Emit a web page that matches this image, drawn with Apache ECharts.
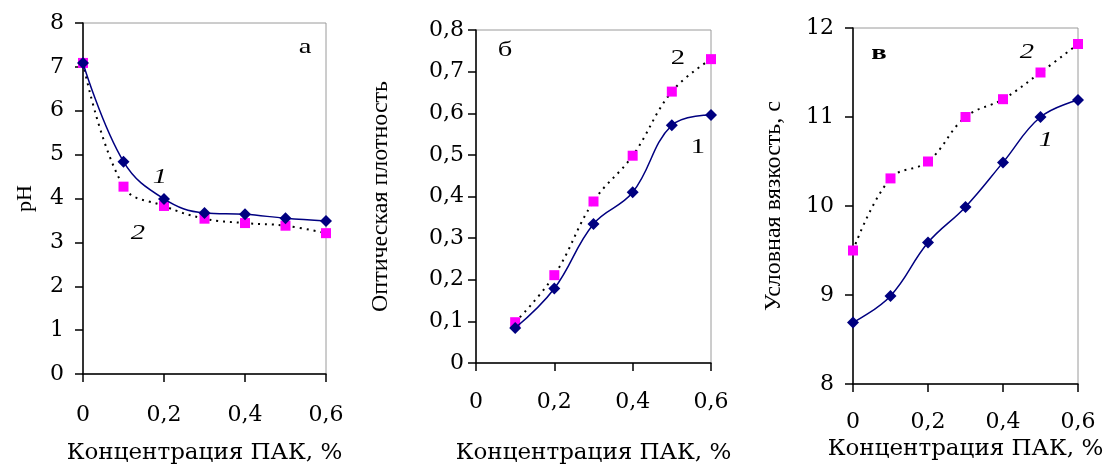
<!DOCTYPE html>
<html><head><meta charset="utf-8">
<script src="https://cdn.jsdelivr.net/npm/echarts@6/dist/echarts.min.js"></script>
<style>html,body{margin:0;padding:0;background:#fff}#c{width:1109px;height:466px}</style>
</head><body><div id="c"></div>
<script>
// Panel a: pH
var xA = [0, 0.1, 0.2, 0.3, 0.4, 0.5, 0.6];
var pH1 = [7.09, 4.84, 3.99, 3.67, 3.64, 3.55, 3.49];
var pH2 = [7.09, 4.27, 3.83, 3.54, 3.44, 3.38, 3.21];
// Panel b: optical density
var xB = [0.1, 0.2, 0.3, 0.4, 0.5, 0.6];
var od1 = [0.084, 0.179, 0.334, 0.41, 0.571, 0.596];
var od2 = [0.098, 0.211, 0.388, 0.498, 0.652, 0.73];
// Panel c: viscosity
var xC = [0, 0.1, 0.2, 0.3, 0.4, 0.5, 0.6];
var vis1 = [8.69, 8.99, 9.59, 9.99, 10.49, 11.0, 11.19];
var vis2 = [9.5, 10.31, 10.5, 11.0, 11.2, 11.5, 11.82];

var xTitle = 'Концентрация ПАК, %';
var yTitles = ['pH', 'Оптическая плотность', 'Условная вязкость, с'];
var panelLetters = ['а', 'б', 'в'];

function pairs(x, y){ return x.map(function(v,i){return [v, y[i]];}); }
function comma(v){ return String(+v.toFixed(2)).replace('.', ','); }

var WIDE = 'DejaVu Serif';
var SERIF = 'Liberation Serif';
var grids = [
  {left:83, top:23, width:243, height:351},
  {left:476, top:30, width:235, height:333},
  {left:853, top:28, width:225, height:356}
];
var yCfg = [
  {min:0, max:8, interval:1, margin:19, gap:47, fs:22},
  {min:0, max:0.8, interval:0.1, margin:12, gap:83, fs:24},
  {min:8, max:12, interval:1, margin:19, gap:67, fs:24}
];
var xLabelMargin = [30, 28, 27];
var xNameGap = [68, 79, 50];

var option = {
  animation:false,
  backgroundColor:'#fff',
  textStyle:{fontFamily:SERIF},
  grid: grids.map(function(g){ return Object.assign({show:true, borderColor:'#9a9a9a', borderWidth:1, containLabel:false, outerBoundsMode:'none'}, g); }),
  xAxis: [0,1,2].map(function(i){ return {
    type:'value', gridIndex:i, min:0, max:0.6, interval:0.2,
    name: xTitle, nameLocation:'middle', nameGap:xNameGap[i],
    nameTextStyle:{fontFamily:WIDE, fontSize:23, color:'#000'},
    axisLine:{show:true, lineStyle:{color:'#000', width:1.5}},
    axisTick:{show:true, inside:false, length:8, lineStyle:{color:'#000', width:1.5}},
    axisLabel:{formatter:comma, fontFamily:WIDE, fontSize:22, color:'#000', margin:xLabelMargin[i]},
    splitLine:{show:false}
  };}),
  yAxis: [0,1,2].map(function(i){ var c=yCfg[i]; return {
    type:'value', gridIndex:i, min:c.min, max:c.max, interval:c.interval,
    name: yTitles[i], nameLocation:'middle', nameGap:c.gap, nameRotate:90,
    nameTextStyle:{fontFamily:SERIF, fontSize:c.fs, color:'#000'},
    axisLine:{show:true, lineStyle:{color:'#000', width:1.5}},
    axisTick:{show:true, inside:false, length:8, lineStyle:{color:'#000', width:1.5}},
    axisLabel:{formatter:comma, fontFamily:WIDE, fontSize:22, color:'#000', margin:c.margin},
    splitLine:{show:false}
  };}),
  series: [],
  graphic: []
};

function note(txt, x, y, style){
  option.graphic.push({type:'text', x:x, y:y, scaleX:1.3, z:10,
    style:{text:txt, textAlign:'center', textVerticalAlign:'middle', font:style + ' 22px "Liberation Serif"', fill:'#000'}});
}
note(panelLetters[0], 305, 47, 'normal');
note('1', 160, 177, 'italic');
note('2', 138, 233, 'italic');
note(panelLetters[1], 505, 50, 'normal');
note('2', 678, 58, 'normal');
note('1', 698, 147, 'normal');
note(panelLetters[2], 879, 53, 'bold');
note('2', 1027, 52, 'italic');
note('1', 1046, 140, 'italic');

var sets = [[xA,pH1,pH2],[xB,od1,od2],[xC,vis1,vis2]];
sets.forEach(function(s, i){
  option.series.push({
    type:'line', xAxisIndex:i, yAxisIndex:i, data:pairs(s[0], s[2]), smooth:0.4,
    symbol:'rect', symbolSize:10, itemStyle:{color:'#ff00ff'},
    lineStyle:{color:'#000', width:2, type:[2,5]}, z:2
  });
  option.series.push({
    type:'line', xAxisIndex:i, yAxisIndex:i, data:pairs(s[0], s[1]), smooth:0.4,
    symbol:'diamond', symbolSize:12, itemStyle:{color:'#000080'},
    lineStyle:{color:'#000080', width:1.5}, z:3
  });
});

var chart = echarts.init(document.getElementById('c'), null, {renderer:'canvas'});
chart.setOption(option);
</script></body></html>
